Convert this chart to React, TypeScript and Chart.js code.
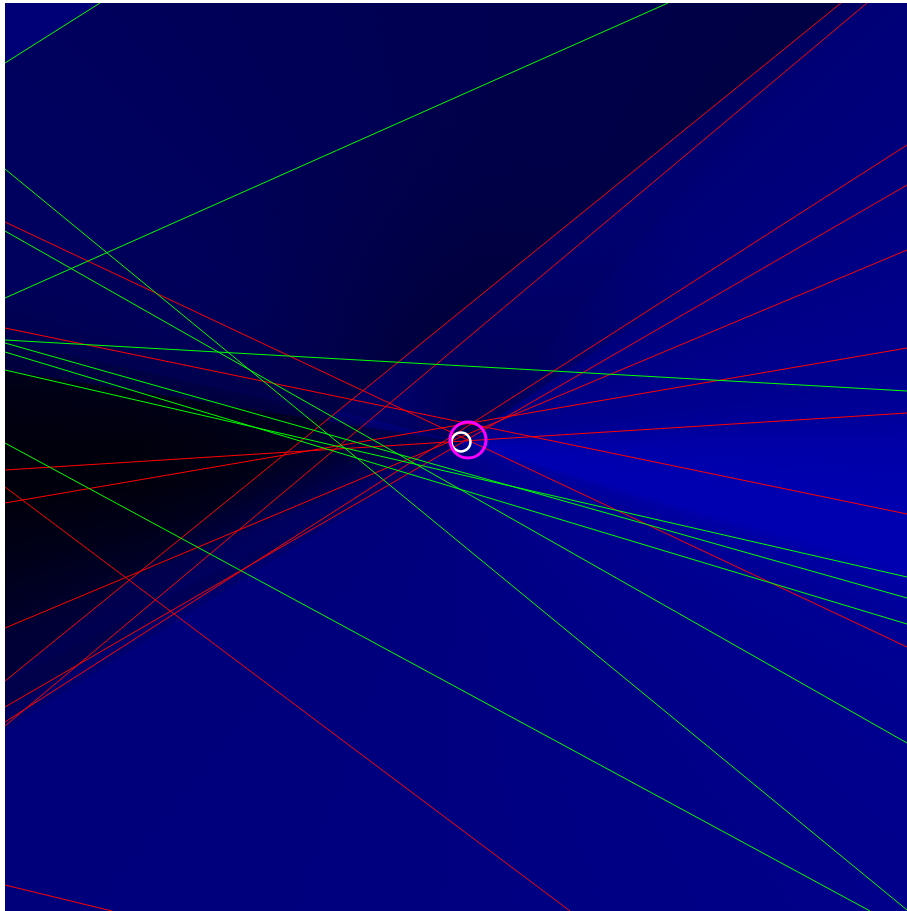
import React, { useEffect, useRef } from "react";
import { Chart, registerables } from "chart.js";

Chart.register(...registerables);

// Plot extent (picture coordinates are used as data units)
const xRange = [5, 907];
const yRange = [3, 911];

// Bearing lines: [x1, y1, x2, y2]
const greenLines: number[][] = [
  [5, 63, 100, 3],
  [5, 298, 668, 3],
  [5, 169, 907, 910],
  [5, 231, 907, 743],
  [5, 340, 907, 391],
  [5, 343, 907, 598],
  [5, 352, 907, 624],
  [5, 370, 907, 577],
  [5, 443, 870, 911],
];

const redLines: number[][] = [
  [5, 222, 907, 647],
  [5, 328, 907, 514],
  [5, 470, 907, 413],
  [5, 487, 570, 911],
  [5, 885, 112, 911],
  [5, 681, 841, 3],
  [5, 726, 867, 3],
  [5, 628, 907, 250],
  [5, 707, 907, 185],
  [5, 722, 907, 145],
  [5, 503, 907, 348],
];

// Markers
const truePosition = [{ x: 461, y: 442 }];
const estimatedPosition = [{ x: 468, y: 440 }];

// Angular shading of the likelihood field around the true position: [degrees, blue level]
const shadeStops: number[][] = [
  [0, 0xa6], [5, 0xac], [10, 0xb0], [16, 0xb0], [18, 0xa2], [22, 0x98], [25, 0x92],
  [35, 0x8e], [46, 0x8a], [60, 0x86], [90, 0x80], [120, 0x7c], [147.5, 0x7a],
  [148, 0x6d], [149.6, 0x6a], [149.8, 0x56], [152, 0x56], [152.4, 0x5e],
  [157.5, 0x57], [157.7, 0x46], [165, 0x2b], [172, 0x17], [180, 0x17], [186, 0x21],
  [188.8, 0x2b], [189, 0x64], [192.4, 0x72], [192.6, 0x83], [200, 0x90], [215, 0x94],
  [230, 0x8c], [255, 0x80], [275, 0x78], [295, 0x76], [305, 0x72], [311, 0x70],
  [313, 0x76], [325, 0x7c], [335, 0x84], [345, 0x8c], [352, 0x90],
  [356, 0x98], [360, 0xa6],
];

// Near-focus blending sectors: [from deg, to deg, blue level, alpha at centre]
const nearSectors: number[][] = [
  [148.4, 194, 112, 0.7],
  [194, 326, 72, 0.78],
];

// Half-plane darkening above-left of the two long red bearings (index in redLines, alpha)
const darkSides: number[][] = [
  [5, 0.3],
  [6, 0.12],
];

const toPts = (l: number[]) => [
  { x: l[0], y: l[1] },
  { x: l[2], y: l[3] },
];

export default function App() {
  const ref = useRef<HTMLCanvasElement>(null);

  useEffect(() => {
    if (!ref.current) return;

    const fieldPlugin = {
      id: "field",
      beforeDraw(chart: any) {
        const { ctx, chartArea, scales } = chart;
        const cx = scales.x.getPixelForValue(truePosition[0].x);
        const cy = scales.y.getPixelForValue(truePosition[0].y);
        ctx.save();
        ctx.beginPath();
        ctx.rect(chartArea.left, chartArea.top, chartArea.width, chartArea.height);
        ctx.clip();
        ctx.fillStyle = "#000080";
        ctx.fillRect(chartArea.left, chartArea.top, chartArea.width, chartArea.height);
        if (typeof ctx.createConicGradient === "function") {
          const g = ctx.createConicGradient(0, cx, cy);
          for (const [deg, b] of shadeStops) g.addColorStop(deg / 360, `rgb(0,0,${b})`);
          ctx.fillStyle = g;
          ctx.fillRect(chartArea.left, chartArea.top, chartArea.width, chartArea.height);
        }
        for (const [a0, a1, b, a] of nearSectors) {
          const rg = ctx.createRadialGradient(cx, cy, 0, cx, cy, 320);
          rg.addColorStop(0, `rgba(0,0,${b},${a})`);
          rg.addColorStop(80 / 320, `rgba(0,0,${b},${a * 0.72})`);
          rg.addColorStop(170 / 320, `rgba(0,0,${b},${a * 0.35})`);
          rg.addColorStop(260 / 320, `rgba(0,0,${b},${a * 0.08})`);
          rg.addColorStop(1, `rgba(0,0,${b},0)`);
          ctx.beginPath();
          ctx.moveTo(cx, cy);
          ctx.arc(cx, cy, 2000, (a0 * Math.PI) / 180, (a1 * Math.PI) / 180);
          ctx.closePath();
          ctx.fillStyle = rg;
          ctx.fill();
        }
        ctx.restore();
      },
    };

    const datasets: any[] = [
      {
        label: "estimate",
        data: estimatedPosition,
        showLine: false,
        pointRadius: 18,
        pointHoverRadius: 18,
        pointBorderWidth: 3,
        pointBorderColor: "#ff00ff",
        pointBackgroundColor: "rgba(0,0,0,0)",
      },
      {
        label: "truth",
        data: truePosition,
        showLine: false,
        pointRadius: 9.5,
        pointHoverRadius: 9.5,
        pointBorderWidth: 2.5,
        pointBorderColor: "#ffffff",
        pointBackgroundColor: "rgba(0,0,0,0)",
      },
    ];

    greenLines.forEach((l, i) => {
      datasets.push({
        label: "g" + i,
        data: toPts(l),
        borderColor: "#00ff00",
        borderWidth: 1,
        pointRadius: 0,
        fill: i < 2 ? "end" : false,
        backgroundColor: i === 0 ? "#000076" : "rgba(0,0,130,0.15)",
      });
    });
    redLines.forEach((l, i) => {
      const dark = darkSides.find((d) => d[0] === i);
      datasets.push({
        label: "r" + i,
        data: toPts(l),
        borderColor: "#ff0000",
        borderWidth: 1,
        pointRadius: 0,
        fill: dark ? "end" : false,
        backgroundColor: dark ? `rgba(0,0,0,${dark[1]})` : "rgba(0,0,0,0)",
      });
    });

    const chart = new Chart(ref.current, {
      type: "line",
      data: { datasets },
      options: {
        animation: false,
        responsive: false,
        events: [],
        layout: { padding: 0, autoPadding: false } as any,
        elements: { line: { tension: 0 } },
        scales: {
          x: { type: "linear", min: xRange[0], max: xRange[1], display: false },
          y: { type: "linear", min: yRange[0], max: yRange[1], reverse: true, display: false },
        },
        plugins: {
          legend: { display: false },
          tooltip: { enabled: false },
          filler: { drawTime: "beforeDatasetsDraw" },
        } as any,
      },
      plugins: [fieldPlugin],
    });
    return () => chart.destroy();
  }, []);

  return (
    <div style={{ position: "absolute", left: 5, top: 3, width: 902, height: 908 }}>
      <canvas ref={ref} width={902} height={908} style={{ display: "block", width: 902, height: 908 }} />
    </div>
  );
}
